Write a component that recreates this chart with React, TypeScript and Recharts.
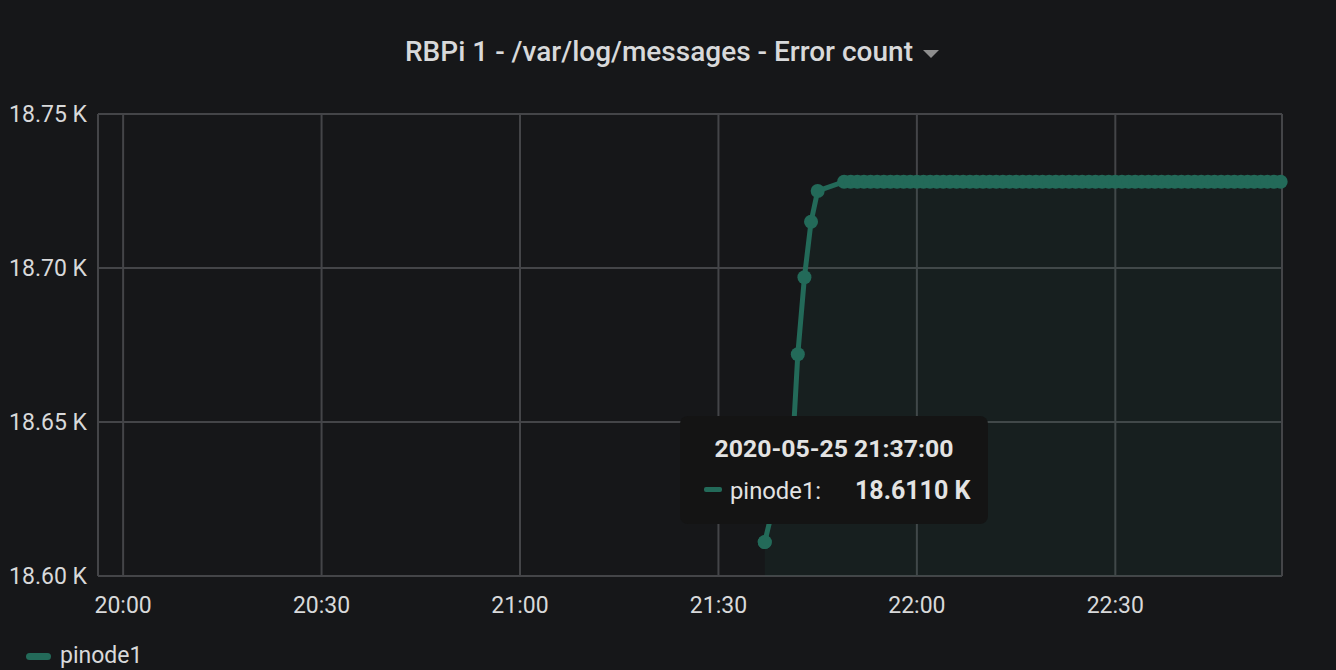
import React from 'react';
import { ComposedChart, Area, Line, XAxis, YAxis, CartesianGrid, Tooltip, Legend } from 'recharts';

const chartTitle = 'RBPi 1 - /var/log/messages - Error count';
const seriesName = 'pinode1';
const dateLabel = '2020-05-25';
const baseHour = 20;

// minutes after 20:00
const minuteOffsets: number[] = [
  97, 98, 99, 100, 101, 102, 103, 104, 105,
  109, 110, 111, 112, 113, 114, 115, 116, 117, 118, 119,
  120, 121, 122, 123, 124, 125, 126, 127, 128, 129,
  130, 131, 132, 133, 134, 135, 136, 137, 138, 139,
  140, 141, 142, 143, 144, 145, 146, 147, 148, 149,
  150, 151, 152, 153, 154, 155, 156, 157, 158, 159,
  160, 161, 162, 163, 164, 165, 166, 167, 168, 169,
  170, 171, 172, 173, 174, 175,
];

const errorCounts: number[] = [
  18611, 18620, 18624, 18628, 18634, 18672, 18697, 18715, 18725,
  18728, 18728, 18728, 18728, 18728, 18728, 18728, 18728, 18728, 18728, 18728,
  18728, 18728, 18728, 18728, 18728, 18728, 18728, 18728, 18728, 18728,
  18728, 18728, 18728, 18728, 18728, 18728, 18728, 18728, 18728, 18728,
  18728, 18728, 18728, 18728, 18728, 18728, 18728, 18728, 18728, 18728,
  18728, 18728, 18728, 18728, 18728, 18728, 18728, 18728, 18728, 18728,
  18728, 18728, 18728, 18728, 18728, 18728, 18728, 18728, 18728, 18728,
  18728, 18728, 18728, 18728, 18728, 18728,
];

const xTicks: number[] = [0, 30, 60, 90, 120, 150];
const yTicks: number[] = [18600, 18650, 18700, 18750];

const data = minuteOffsets.map((t, i) => ({ t, [seriesName]: errorCounts[i] }));

const BG = '#161719';
const GRID = '#444548';
const TEXT = '#d8d9da';
const LINE = '#236a59';
const FONT = 'Roboto, "Noto Sans", sans-serif';

const pad = (n: number) => (n < 10 ? '0' + n : '' + n);
const fmtTime = (m: number) => {
  const h = baseHour + Math.floor(m / 60);
  const mm = Math.round(m - Math.floor(m / 60) * 60);
  return `${h}:${pad(mm)}`;
};

const TooltipBox = (props: any) => {
  const { payload } = props;
  if (!payload || !payload.length) return null;
  const p = payload.find((x: any) => x.dataKey === seriesName && x.type !== 'none') || payload[0];
  const t = p.payload.t as number;
  const v = p.value as number;
  return (
    <div
      style={{
        position: 'relative',
        width: 308,
        height: 108,
        background: '#141414',
        borderRadius: 8,
        fontFamily: FONT,
        color: '#e3e3e3',
      }}
    >
      <div
        style={{
          position: 'absolute',
          left: 0,
          top: 21,
          width: '100%',
          textAlign: 'center',
          fontSize: 24.8,
          lineHeight: '24px',
          fontWeight: 700,
          whiteSpace: 'nowrap',
        }}
      >
        {`${dateLabel} ${fmtTime(t)}:00`}
      </div>
      <div
        style={{
          position: 'absolute',
          left: 24,
          top: 71,
          width: 18,
          height: 5,
          borderRadius: 2,
          background: LINE,
        }}
      />
      <div
        style={{
          position: 'absolute',
          left: 50,
          top: 63,
          fontSize: 23.8,
          lineHeight: '24px',
          whiteSpace: 'nowrap',
        }}
      >
        {`${seriesName}:`}
      </div>
      <div
        style={{
          position: 'absolute',
          left: 175,
          top: 63,
          fontSize: 25,
          lineHeight: '24px',
          fontWeight: 700,
          whiteSpace: 'nowrap',
        }}
      >
        {`${(v / 1000).toFixed(4)} K`}
      </div>
    </div>
  );
};

const LegendBox = (props: any) => {
  const { payload } = props;
  const items = (payload || []).filter((e: any) => e.type !== 'none');
  return (
    <div
      style={{
        height: 28,
        display: 'flex',
        alignItems: 'center',
        fontFamily: FONT,
        fontSize: 23,
        lineHeight: '28px',
        color: TEXT,
      }}
    >
      {items.slice(0, 1).map((e: any) => (
        <div key={e.value} style={{ display: 'flex', alignItems: 'center' }}>
          <span
            style={{
              display: 'inline-block',
              width: 25,
              height: 7,
              borderRadius: 4,
              background: LINE,
              marginLeft: 26,
              marginRight: 9,
            }}
          />
          <span>{seriesName}</span>
        </div>
      ))}
    </div>
  );
};

export default function App() {
  return (
    <div
      style={{
        position: 'absolute',
        left: 0,
        top: 0,
        width: 1336,
        height: 670,
        background: BG,
        overflow: 'hidden',
      }}
    >
      <div
        style={{
          position: 'absolute',
          left: 405,
          top: 36,
          fontFamily: FONT,
          fontSize: 28,
          lineHeight: '32px',
          fontWeight: 500,
          color: TEXT,
          whiteSpace: 'nowrap',
          display: 'flex',
          alignItems: 'center',
        }}
      >
        <span>{chartTitle}</span>
        <span
          style={{
            display: 'inline-block',
            width: 0,
            height: 0,
            marginLeft: 10,
            marginTop: 4,
            borderLeft: '8px solid transparent',
            borderRight: '8px solid transparent',
            borderTop: '8px solid #8e8e8e',
          }}
        />
      </div>
      <ComposedChart
        width={1336}
        height={670}
        data={data}
        margin={{ top: 114, right: 54, bottom: 0, left: 0 }}
      >
        <CartesianGrid stroke={GRID} strokeWidth={2} vertical horizontal />
        <XAxis
          dataKey="t"
          type="number"
          domain={[-3.8, 175.2]}
          ticks={xTicks}
          tickFormatter={fmtTime}
          axisLine={false}
          tickLine={false}
          tickSize={0}
          tickMargin={21}
          height={66}
          tick={{ fill: TEXT, fontSize: 23, fontFamily: FONT }}
        />
        <YAxis
          type="number"
          domain={[18600, 18750]}
          ticks={yTicks}
          tickFormatter={(v: number) => `${(v / 1000).toFixed(2)} K`}
          axisLine={false}
          tickLine={false}
          tickSize={0}
          tickMargin={11}
          width={98}
          tick={{ fill: TEXT, fontSize: 23, fontFamily: FONT }}
        />
        <Area
          type="linear"
          dataKey={seriesName}
          stroke="none"
          fill={LINE}
          fillOpacity={0.1}
          dot={false}
          activeDot={false}
          legendType="none"
          tooltipType="none"
          isAnimationActive={false}
        />
        <Line
          type="linear"
          dataKey={seriesName}
          stroke={LINE}
          strokeWidth={5}
          dot={{ r: 7, fill: LINE, stroke: 'none', strokeWidth: 0 }}
          activeDot={{ r: 7, fill: LINE, stroke: 'none', strokeWidth: 0 }}
          isAnimationActive={false}
        />
        <Tooltip
          defaultIndex={0}
          active
          cursor={false}
          position={{ x: 680, y: 416 }}
          content={<TooltipBox />}
          isAnimationActive={false}
          wrapperStyle={{ outline: 'none' }}
        />
        <Legend
          verticalAlign="bottom"
          align="left"
          content={<LegendBox />}
          wrapperStyle={{ top: 642, left: 0, bottom: 'auto' }}
        />
      </ComposedChart>
    </div>
  );
}
